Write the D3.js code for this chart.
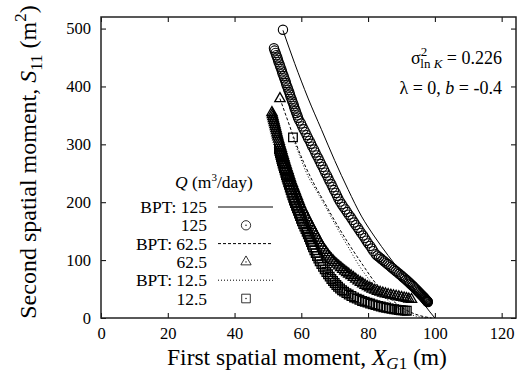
<!DOCTYPE html>
<html><head><meta charset="utf-8">
<script src="https://cdn.jsdelivr.net/npm/d3@7"></script>
<style>
body{margin:0;background:#fff}
svg{display:block;font-family:"Liberation Serif","Times New Roman",serif}
</style>
</head><body>
<svg id="chart" width="519" height="372"></svg>
<script>
// BPT curves (lines)
const bpt125X = [54.5, 58, 62, 66, 70, 74, 78, 82, 86, 90, 94, 97, 100];
const bpt125Y = [497, 440, 380, 326, 272, 222, 176, 140, 108, 78, 48, 22, 0];
const bpt62X = [53.6, 56, 58.5, 61, 63.5, 66.6, 70, 74, 78.6, 82, 85, 88, 91, 94, 97, 99];
const bpt62Y = [379, 340, 300, 265, 235, 203, 168, 130, 90, 62, 42, 27, 15, 7, 2, 0];
const bpt12X = [57.5, 59.5, 62, 64.5, 66.2, 70, 74, 77.6, 80.5, 82.6, 85.5, 88.5, 91.5, 94.5, 97.5];
const bpt12Y = [312, 280, 245, 220, 203, 163, 123, 88, 65, 50, 33, 19, 9, 3, 0];

// simulated moments (points), Q = 125
const q125X = [54.5,
  51.8, 52.0, 52.3, 52.5, 52.8, 53.0, 53.2, 53.5, 53.7, 54.0, 54.2, 54.4, 54.7, 54.9, 55.2, 55.4,
  55.6, 55.9, 56.1, 56.4, 56.6, 56.8, 57.1, 57.3, 57.6, 57.8, 58.0, 58.3, 58.5, 58.8, 59.0,
  59.4, 59.9, 60.3, 60.7, 61.2, 61.6, 62.0, 62.5, 62.9, 63.3, 63.8, 64.2, 64.6, 65.1, 65.5, 65.9,
  66.4, 66.8, 67.2, 67.7, 68.1, 68.5, 69.0, 69.4, 69.8, 70.3, 70.7, 71.1,
  71.6, 72.1, 72.6, 73.2, 73.7, 74.2, 74.8, 75.3, 75.8, 76.3, 76.9, 77.4, 77.9, 78.5, 79.0, 79.5,
  80.0, 80.6, 81.1, 81.6, 82.3,
  82.8, 83.3, 83.8, 84.3, 84.8, 85.3, 85.8, 86.3, 86.8, 87.3, 87.8, 88.3, 88.8, 89.3, 89.8,
  90.2, 90.6, 91.0, 91.4, 91.8, 92.2, 92.6, 93.0, 93.4, 93.8, 94.1, 94.4, 94.7, 95.0,
  95.25, 95.5, 95.75, 96.0, 96.2, 96.4, 96.6, 96.8, 96.95, 97.1, 97.25, 97.4, 97.5, 97.6, 97.7,
  97.8, 97.85, 97.9];
const q125Y = [498,
  466, 462, 458, 454, 450, 446, 442, 438, 434, 430, 426, 422, 418, 414, 410, 406,
  402, 398, 394, 390, 386, 382, 378, 374, 370, 366, 362, 358, 354, 350, 346,
  341, 336, 331, 326, 321, 316, 311, 306, 301, 296, 291, 286, 281, 276, 271, 266,
  261, 256, 251, 246, 241, 236, 231, 226, 221, 216, 211, 206,
  201, 196.5, 192, 187.5, 183, 178.5, 174, 169.5, 165, 160.5, 156, 151.5, 147, 142.5, 138, 133.5,
  129, 124.5, 120, 115.5, 110,
  107.6, 105.2, 102.8, 100.4, 98, 95.6, 93.2, 90.8, 88.4, 86, 83.6, 81.2, 78.8, 76.4, 74,
  72, 70, 68, 66, 64, 61.8, 59.6, 57.4, 55.2, 53, 51.2, 49.4, 47.6, 45.8,
  44.3, 42.8, 41.3, 39.8, 38.6, 37.4, 36.2, 35, 34, 33, 32, 31, 30.3, 29.6, 29,
  28.4, 28, 27.6];

// Q = 62.5
const q62X = [53.6,
  51.2, 51.35, 51.5, 51.65, 51.8, 51.95, 52.1, 52.25, 52.4, 52.55, 52.7, 52.85, 53.0, 53.2, 53.4, 53.6,
  53.8, 54.0, 54.2, 54.4, 54.6, 54.8, 55.0, 55.25, 55.5, 55.75, 56.0, 56.25, 56.5, 56.75, 57.0, 57.3,
  57.6, 57.9, 58.2, 58.5, 58.8, 59.1, 59.4, 59.7, 60.0, 60.4, 60.8, 61.2, 61.6, 62.0, 62.4, 62.8,
  63.2, 63.6, 64.0, 64.4, 64.8, 65.2, 65.6, 66.0, 66.5, 67.0, 67.5, 68.0, 68.5, 69.0, 69.5, 70.0,
  70.6, 71.2, 71.8, 72.4, 73.0, 73.6, 74.2, 74.9, 75.6, 76.3, 77.0, 77.7, 78.4, 79.1, 79.8, 80.5,
  81.2, 82.0, 82.8, 83.6, 84.4, 85.2, 86.0, 86.8, 87.6, 88.4, 89.2, 90.0, 90.8, 91.5, 92.2, 93.0];
const q62Y = [379,
  355, 351.5, 348, 344.5, 341, 337.5, 334, 330.5, 327, 323.5, 320, 316.5, 313, 309, 305, 301,
  297, 293, 289, 285, 281, 277, 273, 268.5, 264, 259.5, 255, 250.5, 246, 241.5, 237, 232.5,
  228, 223.5, 219, 214.5, 210, 205.5, 201, 196.5, 192, 187.5, 183, 178, 173.5, 169, 164.5, 160,
  155.5, 151, 147, 142.5, 138, 134, 129.5, 125, 121, 117, 113, 109, 105.5, 102, 99, 96,
  93, 90, 87, 84, 81, 78.5, 76, 73, 70, 67, 64, 61.5, 59, 56.5, 54, 52,
  50, 48, 46, 44.5, 43, 41.8, 40.6, 39.5, 38.5, 37.6, 36.6, 35.6, 34.6, 33.7, 32.8, 32];

// Q = 12.5
const q12X = [57.5,
  53.3, 53.45, 53.6, 53.75, 53.9, 54.05, 54.2, 54.4, 54.6, 54.8, 55.0, 55.2, 55.4, 55.6, 55.8, 56.05,
  56.3, 56.55, 56.8, 57.05, 57.3, 57.55, 57.8, 58.1, 58.4, 58.7, 59.0, 59.3, 59.6, 59.9, 60.2, 60.55,
  60.9, 61.25, 61.6, 61.95, 62.3, 62.6, 62.9, 63.2, 63.5, 63.9, 64.3, 64.7, 65.1, 65.5, 66.0, 66.5,
  67.0, 67.5, 68.0, 68.5, 69.0, 69.5, 70.0, 70.5, 71.0, 71.6, 72.2, 72.8, 73.5, 74.2, 75.0, 75.8,
  76.6, 77.4, 78.2, 79.0, 79.8, 80.6, 81.4, 82.2, 83.0, 83.8, 84.6, 85.4, 86.2, 87.0, 87.8, 88.5,
  89.2, 89.8, 90.4, 91.0, 91.6];
const q12Y = [312,
  292, 288.5, 285, 281.5, 278, 274.5, 271, 267, 263, 259, 255, 251, 247, 243, 239, 234.5,
  230, 225.5, 221, 216.5, 212, 207.5, 203, 198.5, 194, 189.5, 185, 180.5, 176, 171.5, 167, 162.5,
  158, 153.5, 149, 144.5, 140, 135.5, 131, 126.5, 122, 117, 112, 107, 102.5, 98, 93, 88.5,
  84, 79.5, 75.5, 71.5, 67.5, 64, 60.5, 57, 54, 51, 48, 45.5, 43, 40.5, 38, 35.5,
  33.5, 31.5, 29.5, 28, 26.5, 25, 23.5, 22.2, 21, 19.8, 18.6, 17.6, 16.7, 15.8, 15, 14.4,
  13.9, 13.5, 13.1, 12.8, 12.5];

const xTicks = [0, 20, 40, 60, 80, 100, 120];
const yTicks = [0, 100, 200, 300, 400, 500];
const legendLabels = ["BPT: 125", "125", "BPT: 62.5", "62.5", "BPT: 12.5", "12.5"];

const svg = d3.select("#chart");
const pL = 101, pR = 516, pT = 17, pB = 318;

const x = d3.scaleLinear().domain([0, 124.3]).range([pL, pR]);
const y = d3.scaleLinear().domain([0, 520]).range([pB, pT]);

// axes, ticks inward and mirrored
svg.append("g").attr("transform", `translate(0,${pB})`)
  .call(d3.axisBottom(x).tickValues(xTicks).tickSizeInner(-5).tickSizeOuter(0).tickPadding(9));
svg.append("g").attr("transform", `translate(0,${pT})`)
  .call(d3.axisTop(x).tickValues(xTicks).tickSizeInner(-5).tickSizeOuter(0).tickFormat(""));
svg.append("g").attr("transform", `translate(${pL},0)`)
  .call(d3.axisLeft(y).tickValues(yTicks).tickSizeInner(-5).tickSizeOuter(0).tickPadding(10));
svg.append("g").attr("transform", `translate(${pR},0)`)
  .call(d3.axisRight(y).tickValues(yTicks).tickSizeInner(-5).tickSizeOuter(0).tickFormat(""));

svg.selectAll(".domain").remove();
svg.selectAll(".tick line").attr("stroke", "#000").attr("stroke-width", 1);
svg.selectAll(".tick text").attr("font-size", 16.5).attr("font-family", "Liberation Serif").attr("fill", "#000");

svg.append("rect").attr("x", pL).attr("y", pT)
  .attr("width", pR - pL).attr("height", pB - pT)
  .attr("fill", "none").attr("stroke", "#222").attr("stroke-width", 1.5);

const line = d3.line().x(d => x(d[0])).y(d => y(d[1])).curve(d3.curveMonotoneX);
const zip = (a, b) => a.map((v, i) => [v, b[i]]);

const sym = {
  circle: d3.symbol().type(d3.symbolCircle).size(68),
  tri: d3.symbol().type(d3.symbolTriangle).size(46),
  square: d3.symbol().type(d3.symbolSquare).size(74)
};

const series = [
  { lx: bpt125X, ly: bpt125Y, dash: null, px: q125X, py: q125Y, s: "circle", sw: 1.1 },
  { lx: bpt62X, ly: bpt62Y, dash: "3,2", px: q62X, py: q62Y, s: "tri", sw: 1.3 },
  { lx: bpt12X, ly: bpt12Y, dash: "1,2", px: q12X, py: q12Y, s: "square", sw: 1.3 }
];

const plot = svg.append("g");
series.forEach(sr => {
  plot.append("path").datum(zip(sr.lx, sr.ly))
    .attr("d", line).attr("fill", "none").attr("stroke", "#000").attr("stroke-width", 1)
    .attr("stroke-dasharray", sr.dash);
  plot.selectAll(null).data(zip(sr.px, sr.py)).join("path")
    .attr("d", sym[sr.s])
    .attr("transform", d => `translate(${x(d[0])},${y(d[1])})`)
    .attr("fill", "none").attr("stroke", "#000").attr("stroke-width", sr.sw);
});

// legend
const leg = svg.append("g");
const qt = leg.append("text").attr("x", 175).attr("y", 188).attr("font-size", 17.5);
qt.append("tspan").attr("font-style", "italic").text("Q");
qt.append("tspan").text(" (m");
qt.append("tspan").attr("font-size", 11).attr("dy", -7).text("3");
qt.append("tspan").attr("dy", 7).text("/day)");

legendLabels.forEach((lab, i) => {
  const cy = 207 + i * 18.3;
  leg.append("text").attr("x", 207).attr("y", cy + 6).attr("text-anchor", "end")
    .attr("font-size", 17.5).text(lab);
  const sr = series[Math.floor(i / 2)];
  if (i % 2 === 0) {
    leg.append("line").attr("x1", 218).attr("x2", 273).attr("y1", cy).attr("y2", cy)
      .attr("stroke", "#000").attr("stroke-width", 1).attr("stroke-dasharray", sr.dash);
  } else {
    leg.append("path").attr("d", sym[sr.s]).attr("transform", `translate(246,${cy})`)
      .attr("fill", "none").attr("stroke", "#000").attr("stroke-width", 0.8);
    leg.append("circle").attr("cx", 246).attr("cy", cy).attr("r", 0.7).attr("fill", "#000");
  }
});

// annotation
const a1 = svg.append("text").attr("x", 502).attr("y", 64).attr("text-anchor", "end").attr("font-size", 18);
a1.append("tspan").text("σ");
a1.append("tspan").attr("font-size", 13).attr("dy", -8).text("2");
a1.append("tspan").attr("font-size", 13).attr("dy", 12).attr("dx", -7).text("ln ");
a1.append("tspan").attr("font-size", 13).attr("font-style", "italic").text("K");
a1.append("tspan").attr("dy", -4).text(" = 0.226");

const a2 = svg.append("text").attr("x", 502).attr("y", 94).attr("text-anchor", "end").attr("font-size", 18);
a2.append("tspan").text("λ = 0, ");
a2.append("tspan").attr("font-style", "italic").text("b");
a2.append("tspan").text(" = -0.4");

// axis titles
const xt = svg.append("text").attr("x", 307).attr("y", 365).attr("text-anchor", "middle").attr("font-size", 23.5);
xt.append("tspan").text("First spatial moment, ");
xt.append("tspan").attr("font-style", "italic").text("X");
xt.append("tspan").attr("font-size", 17).attr("dy", 4).attr("font-style", "italic").text("G");
xt.append("tspan").attr("font-size", 17).text("1");
xt.append("tspan").attr("dy", -4).text(" (m)");

const yt = svg.append("text").attr("transform", "translate(36,162) rotate(-90)")
  .attr("text-anchor", "middle").attr("font-size", 24);
yt.append("tspan").text("Second spatial moment, ");
yt.append("tspan").attr("font-style", "italic").text("S");
yt.append("tspan").attr("font-size", 17).attr("dy", 6).text("11");
yt.append("tspan").attr("dy", -6).text(" (m");
yt.append("tspan").attr("font-size", 17).attr("dy", -10).text("2");
yt.append("tspan").attr("dy", 10).text(")");
</script>
</body></html>
